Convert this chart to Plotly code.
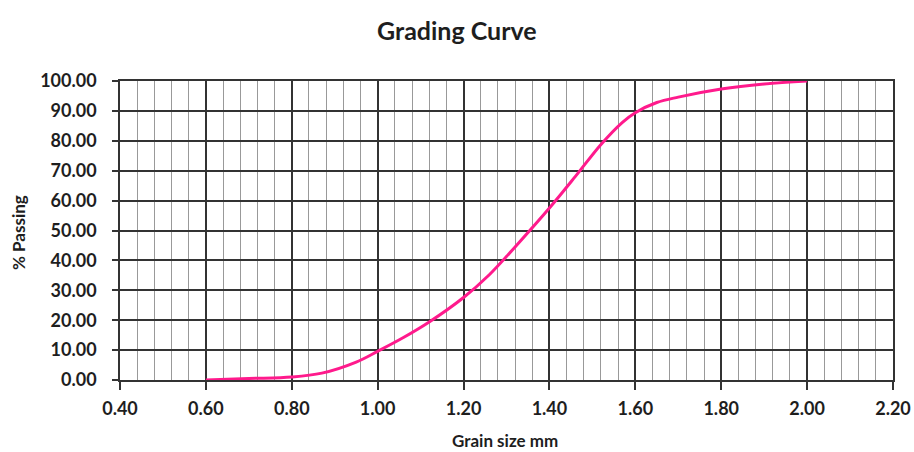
import plotly.graph_objects as go

grain_size = [0.60, 0.70, 0.80, 0.87, 0.95, 1.00, 1.06, 1.12, 1.20, 1.26, 1.32, 1.40, 1.46, 1.52, 1.57, 1.60, 1.65, 1.70, 1.80, 1.90, 2.00]
passing = [0.0, 0.5, 1.0, 2.3, 6.0, 9.6, 14.2, 19.4, 27.6, 35.2, 44.5, 57.5, 68.0, 78.8, 86.2, 89.4, 92.8, 94.6, 97.3, 99.0, 100.0]

font = "Lato"
ink = "#1e1e1e"
L, R, T, B = 120, 21, 81, 72
PW, PH = 914 - L - R, 452 - T - B

fig = go.Figure()
fig.add_trace(go.Scatter(x=grain_size, y=passing, mode="lines",
                         line=dict(color="#ff1a8c", width=3, shape="spline", smoothing=1.0),
                         showlegend=False))

fig.update_layout(
    width=914, height=452,
    margin=dict(l=L, r=R, t=T, b=B, autoexpand=False),
    paper_bgcolor="white", plot_bgcolor="white",
    font=dict(family=font, color=ink),
    annotations=[
        dict(text="<b>Grading Curve</b>", x=(457 - L) / PW, xref="paper", y=1 + (T - 30) / PH,
             yref="paper", xanchor="center", yanchor="middle", showarrow=False,
             font=dict(family=font, size=25, color=ink)),
        dict(text="<b>Grain size mm</b>", x=(505 - L) / PW, xref="paper", y=-(440 - 380) / PH,
             yref="paper", xanchor="center", yanchor="middle", showarrow=False,
             font=dict(family=font, size=17, color=ink)),
        dict(text="<b>% Passing</b>", x=-(L - 18) / PW, xref="paper", y=(380 - 232) / PH,
             yref="paper", xanchor="center", yanchor="middle", showarrow=False, textangle=-90,
             font=dict(family=font, size=17, color=ink)),
    ],
)
fig.update_xaxes(
    range=[0.40, 2.20], dtick=0.2, tick0=0.4, tickformat=".2f", automargin=False,
    tickfont=dict(family=font, size=18, color=ink, weight="bold"),
    showgrid=True, gridcolor="#333", gridwidth=1.5,
    minor=dict(dtick=0.04, tick0=0.4, showgrid=True, gridcolor="#999", gridwidth=1),
    showline=True, linecolor="#333", linewidth=1.5, mirror=True,
    ticks="outside", ticklen=8, tickcolor="#333", tickwidth=1.5,
    ticklabelstandoff=4,
    zeroline=False,
)
fig.update_yaxes(
    range=[0, 100], dtick=10, tickformat=".2f", automargin=False,
    tickfont=dict(family=font, size=18, color=ink, weight="bold"),
    showgrid=True, gridcolor="#333", gridwidth=1.5,
    showline=True, linecolor="#333", linewidth=1.5, mirror=True,
    ticks="outside", ticklen=6, tickcolor="#333", tickwidth=1.5,
    ticklabelstandoff=12,
    zeroline=False,
)
fig.write_html("out.html", config={"displayModeBar": False},
               post_script="document.body.style.margin='0';document.body.style.overflow='hidden';")
